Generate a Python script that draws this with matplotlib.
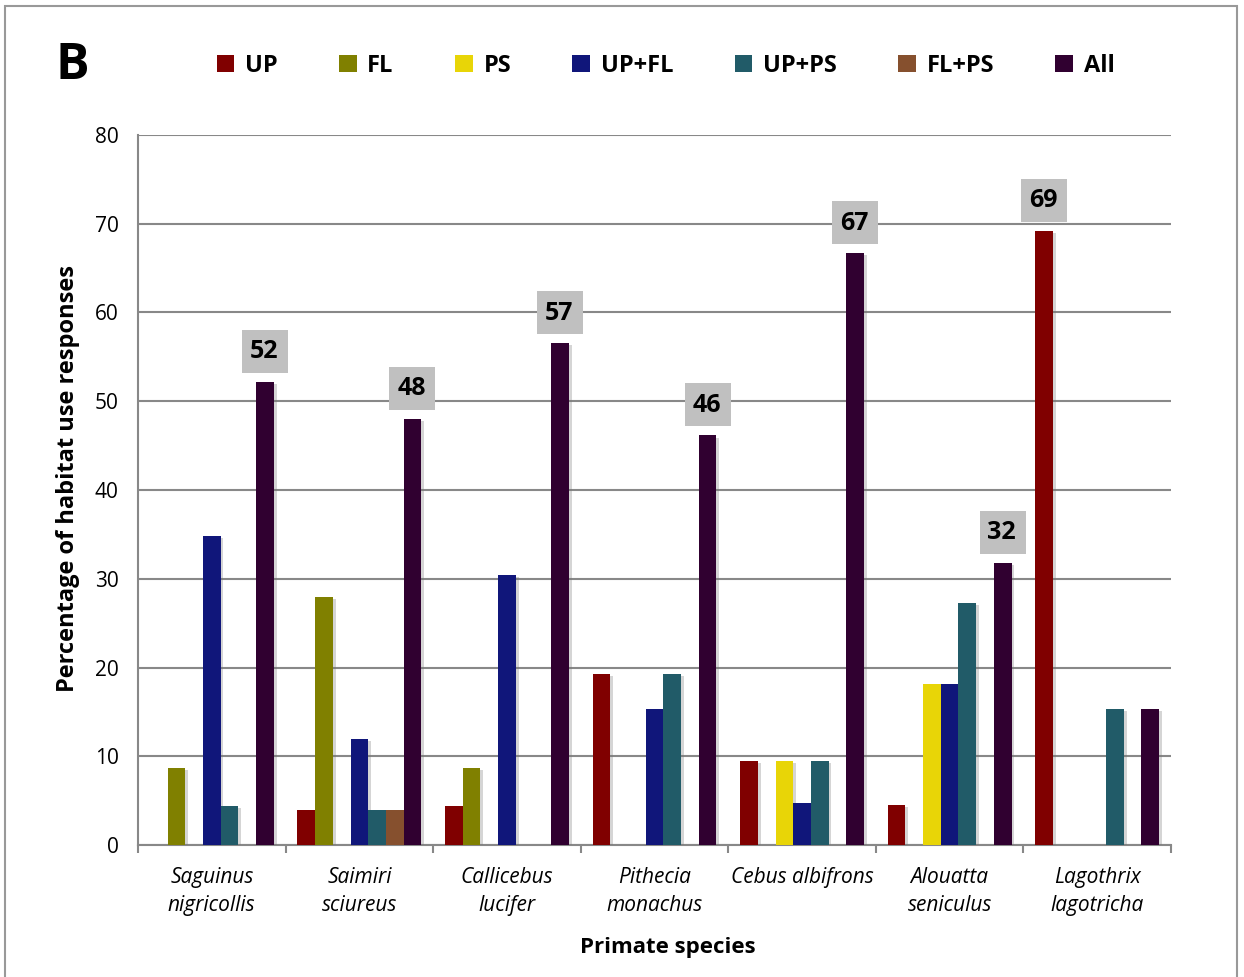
import matplotlib
matplotlib.use('Agg')
import matplotlib.pyplot as plt
import matplotlib.patheffects as pe
from matplotlib.patches import Patch, Rectangle
from matplotlib.transforms import ScaledTranslation
import numpy as np

plt.rcParams['font.family'] = ['Open Sans', 'DejaVu Sans']

species = ['Saguinus\nnigricollis', 'Saimiri\nsciureus', 'Callicebus\nlucifer',
           'Pithecia\nmonachus', 'Cebus albifrons', 'Alouatta\nseniculus',
           'Lagothrix\nlagotricha']

# percentage of habitat use responses per species
up = [0, 4, 4.35, 19.23, 9.52, 4.55, 69.23]
fl = [8.70, 28, 8.70, 0, 0, 0, 0]
ps = [0, 0, 0, 0, 9.52, 18.18, 0]
up_fl = [34.78, 12, 30.43, 15.38, 4.76, 18.18, 0]
up_ps = [4.35, 4, 0, 19.23, 9.52, 27.27, 15.38]
fl_ps = [0, 4, 0, 0, 0, 0, 0]
all_hab = [52.17, 48, 56.52, 46.15, 66.67, 31.82, 15.38]

series_names = ['UP', 'FL', 'PS', 'UP+FL', 'UP+PS', 'FL+PS', 'All']
colors = ['#800000', '#808000', '#e8d507', '#10167a', '#215b68', '#86502e', '#300030']

series = [up, fl, ps, up_fl, up_ps, fl_ps, all_hab]

fig = plt.figure(figsize=(12.44, 9.77), dpi=100)
ax = fig.add_axes([138 / 1244, 1 - 845 / 977, (1171 - 138) / 1244, (845 - 135) / 977])

x = np.arange(len(species))
bw = 0.12
shadow = [pe.SimplePatchShadow(offset=(2, -1.5), shadow_rgbFace='#777777', alpha=0.3), pe.Normal()]
for j, (vals, c) in enumerate(zip(series, colors)):
    bars = ax.bar(x + (j - 3) * bw, vals, width=bw, color=c, linewidth=0, zorder=3)
    for b, v in zip(bars, vals):
        if v > 0:
            b.set_path_effects(shadow)

# value boxes above the tallest bar of each species
data = np.array(series)
for i in range(len(species)):
    j = int(np.argmax(data[:, i]))
    v = data[j, i]
    bx = x[i] + (j - 3) * bw
    tr = fig.dpi_scale_trans + ScaledTranslation(bx, v, ax.transData)
    ax.add_patch(Rectangle((-0.23, 0.09), 0.46, 0.43, transform=tr,
                           facecolor='#c0c0c0', edgecolor='none', zorder=4, clip_on=False))
    ax.text(-0.01, 0.30, f'{v:.0f}', transform=tr, ha='center', va='center',
            fontsize=18, fontweight='bold', zorder=5)

ax.set_ylim(0, 80)
ax.set_xlim(-0.5, len(species) - 0.5)
ax.set_yticks(np.arange(0, 81, 10))
ax.tick_params(axis='y', length=0, pad=14, labelsize=15)
ax.set_xticks(x)
ax.set_xticklabels(species, fontstyle='italic', fontsize=15, linespacing=1.4)
ax.set_xticks(np.arange(-0.5, len(species)), minor=True)
ax.tick_params(axis='x', which='major', length=0, pad=16)
ax.tick_params(axis='x', which='minor', length=6, width=1.5, color='#888888')

ax.grid(axis='y', color='#888888', linewidth=1.5, zorder=0)
ax.set_axisbelow(True)
for s in ['top', 'right']:
    ax.spines[s].set_visible(False)
for s in ['left', 'bottom']:
    ax.spines[s].set_color('#888888')
    ax.spines[s].set_linewidth(1.5)

fig.text(68 / 1244, 0.51, 'Percentage of habitat use responses', rotation=90,
         ha='center', va='center', fontsize=17, fontweight='bold')
fig.text(668 / 1244, 1 - 948 / 977, 'Primate species', ha='center', va='center',
         fontsize=16, fontweight='bold')
fig.text(56 / 1244, 1 - 66 / 977, 'B', ha='left', va='center', fontsize=36, fontweight='bold')

handles = [Patch(facecolor=c, edgecolor='none') for c in colors]
fig.legend(handles, series_names, loc='center', bbox_to_anchor=(0.535, 1 - 66 / 977),
           ncol=7, frameon=False, handlelength=0.75, handleheight=0.75, handletextpad=0.45,
           columnspacing=2.6, prop={'size': 17, 'weight': 'bold'})

fig.add_artist(Rectangle((5 / 1244, -0.02), 1232 / 1244, 1.02 - 6 / 977, transform=fig.transFigure,
                         fill=False, edgecolor='#999999', linewidth=1.5))

fig.savefig('out.png', dpi=100)
